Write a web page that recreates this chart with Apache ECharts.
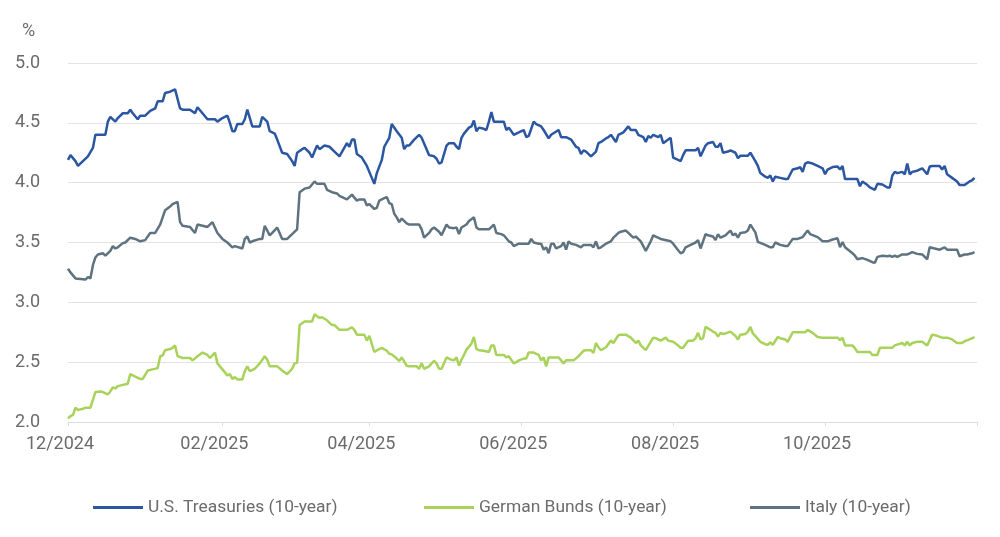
<!DOCTYPE html>
<html>
<head>
<meta charset="utf-8">
<script src="https://cdn.jsdelivr.net/npm/echarts@6/dist/echarts.min.js"></script>
<style>
html,body{margin:0;padding:0;background:#fff;}
#chart{width:1000px;height:537px;}
</style>
</head>
<body>
<div id="chart"></div>
<script>
const seriesNames = ["U.S. Treasuries (10-year)", "German Bunds (10-year)", "Italy (10-year)"];
const tickDates = ["2024-12-01","2025-02-01","2025-04-01","2025-06-01","2025-08-01","2025-10-01","2025-12-01"];
const labelDates = ["2024-12-01","2025-02-01","2025-04-01","2025-06-01","2025-08-01","2025-10-01"];
const yTicks = [2.0, 2.5, 3.0, 3.5, 4.0, 4.5, 5.0];

const usTreasuries = [
["2024-12-01",4.19],["2024-12-02",4.23],["2024-12-04",4.18],["2024-12-05",4.14],["2024-12-07",4.18],
["2024-12-09",4.22],["2024-12-11",4.29],["2024-12-12",4.40],["2024-12-16",4.40],["2024-12-17",4.51],
["2024-12-18",4.55],["2024-12-20",4.51],["2024-12-21",4.54],["2024-12-23",4.58],["2024-12-25",4.58],
["2024-12-26",4.61],["2024-12-27",4.58],["2024-12-29",4.53],["2024-12-30",4.56],["2025-01-01",4.56],
["2025-01-03",4.60],["2025-01-05",4.62],["2025-01-06",4.68],["2025-01-08",4.68],["2025-01-09",4.75],
["2025-01-11",4.76],["2025-01-13",4.78],["2025-01-15",4.62],["2025-01-16",4.61],["2025-01-19",4.61],
["2025-01-21",4.58],["2025-01-22",4.63],["2025-01-24",4.58],["2025-01-26",4.53],["2025-01-29",4.53],
["2025-01-30",4.51],["2025-02-01",4.54],["2025-02-03",4.56],["2025-02-04",4.50],["2025-02-05",4.43],
["2025-02-06",4.43],["2025-02-07",4.49],["2025-02-09",4.49],["2025-02-10",4.53],["2025-02-11",4.61],
["2025-02-13",4.47],["2025-02-16",4.47],["2025-02-17",4.55],["2025-02-19",4.51],["2025-02-20",4.43],
["2025-02-22",4.41],["2025-02-23",4.36],["2025-02-25",4.25],["2025-02-27",4.24],["2025-03-01",4.18],
["2025-03-02",4.14],["2025-03-03",4.25],["2025-03-05",4.28],["2025-03-06",4.29],["2025-03-08",4.25],
["2025-03-09",4.21],["2025-03-11",4.31],["2025-03-12",4.28],["2025-03-14",4.31],["2025-03-16",4.30],
["2025-03-18",4.26],["2025-03-20",4.22],["2025-03-23",4.33],["2025-03-24",4.30],["2025-03-25",4.36],
["2025-03-26",4.36],["2025-03-27",4.24],["2025-03-29",4.21],["2025-03-31",4.14],["2025-04-02",4.04],
["2025-04-03",3.99],["2025-04-04",4.08],["2025-04-06",4.19],["2025-04-07",4.30],["2025-04-09",4.375],
["2025-04-10",4.49],["2025-04-12",4.43],["2025-04-14",4.375],["2025-04-15",4.28],["2025-04-16",4.31],
["2025-04-17",4.31],["2025-04-19",4.36],["2025-04-21",4.40],["2025-04-22",4.375],["2025-04-25",4.23],
["2025-04-27",4.22],["2025-04-28",4.20],["2025-04-29",4.16],["2025-04-30",4.17],["2025-05-02",4.31],
["2025-05-03",4.33],["2025-05-05",4.33],["2025-05-06",4.30],["2025-05-07",4.28],["2025-05-08",4.375],
["2025-05-09",4.41],["2025-05-11",4.46],["2025-05-12",4.47],["2025-05-13",4.52],["2025-05-14",4.43],
["2025-05-15",4.46],["2025-05-17",4.45],["2025-05-18",4.44],["2025-05-19",4.51],["2025-05-20",4.59],
["2025-05-21",4.51],["2025-05-23",4.51],["2025-05-25",4.51],["2025-05-26",4.44],["2025-05-27",4.46],
["2025-05-29",4.40],["2025-05-31",4.42],["2025-06-02",4.44],["2025-06-03",4.38],["2025-06-04",4.39],
["2025-06-06",4.51],["2025-06-07",4.49],["2025-06-09",4.47],["2025-06-10",4.44],["2025-06-12",4.37],
["2025-06-13",4.40],["2025-06-16",4.44],["2025-06-17",4.38],["2025-06-19",4.38],["2025-06-21",4.36],
["2025-06-23",4.30],["2025-06-24",4.29],["2025-06-25",4.24],["2025-06-26",4.27],["2025-06-27",4.26],
["2025-06-29",4.22],["2025-07-01",4.26],["2025-07-02",4.33],["2025-07-03",4.34],["2025-07-05",4.37],
["2025-07-06",4.38],["2025-07-07",4.40],["2025-07-09",4.34],["2025-07-10",4.40],["2025-07-12",4.42],
["2025-07-14",4.47],["2025-07-15",4.44],["2025-07-17",4.44],["2025-07-18",4.40],["2025-07-20",4.38],
["2025-07-21",4.34],["2025-07-22",4.39],["2025-07-23",4.375],["2025-07-24",4.40],["2025-07-26",4.38],
["2025-07-27",4.40],["2025-07-28",4.33],["2025-07-30",4.36],["2025-07-31",4.375],["2025-08-01",4.21],
["2025-08-03",4.19],["2025-08-04",4.18],["2025-08-05",4.23],["2025-08-06",4.27],["2025-08-10",4.27],
["2025-08-11",4.29],["2025-08-12",4.22],["2025-08-14",4.31],["2025-08-15",4.33],["2025-08-17",4.34],
["2025-08-18",4.30],["2025-08-19",4.30],["2025-08-20",4.33],["2025-08-21",4.25],["2025-08-23",4.26],
["2025-08-24",4.27],["2025-08-26",4.25],["2025-08-27",4.205],["2025-08-28",4.225],["2025-08-31",4.225],
["2025-09-01",4.25],["2025-09-03",4.18],["2025-09-04",4.14],["2025-09-05",4.08],["2025-09-07",4.05],
["2025-09-08",4.04],["2025-09-09",4.06],["2025-09-10",4.01],["2025-09-11",4.05],["2025-09-13",4.04],
["2025-09-15",4.03],["2025-09-16",4.03],["2025-09-17",4.07],["2025-09-18",4.11],["2025-09-20",4.12],
["2025-09-21",4.13],["2025-09-22",4.09],["2025-09-23",4.16],["2025-09-24",4.17],["2025-09-26",4.16],
["2025-09-28",4.14],["2025-09-30",4.12],["2025-10-01",4.07],["2025-10-02",4.11],["2025-10-04",4.13],
["2025-10-06",4.135],["2025-10-07",4.11],["2025-10-08",4.14],["2025-10-09",4.03],["2025-10-10",4.03],
["2025-10-14",4.03],["2025-10-15",3.97],["2025-10-16",4.01],["2025-10-18",3.98],["2025-10-19",3.96],
["2025-10-21",3.94],["2025-10-22",3.99],["2025-10-24",3.985],["2025-10-26",3.96],["2025-10-27",3.96],
["2025-10-28",4.06],["2025-10-29",4.09],["2025-10-30",4.08],["2025-11-01",4.09],["2025-11-02",4.07],
["2025-11-03",4.16],["2025-11-04",4.07],["2025-11-05",4.09],["2025-11-07",4.10],["2025-11-09",4.12],
["2025-11-11",4.07],["2025-11-12",4.135],["2025-11-13",4.14],["2025-11-16",4.14],["2025-11-17",4.11],
["2025-11-18",4.14],["2025-11-19",4.07],["2025-11-21",4.04],["2025-11-23",4.01],["2025-11-24",3.98],
["2025-11-26",3.98],["2025-11-28",4.01],["2025-11-29",4.02],["2025-11-30",4.04]
];

const germanBunds = [
["2024-12-01",2.03],["2024-12-02",2.05],["2024-12-03",2.06],["2024-12-04",2.12],["2024-12-05",2.10],
["2024-12-07",2.11],["2024-12-08",2.12],["2024-12-10",2.12],["2024-12-12",2.25],["2024-12-14",2.255],
["2024-12-15",2.25],["2024-12-17",2.23],["2024-12-18",2.255],["2024-12-19",2.29],["2024-12-20",2.28],
["2024-12-21",2.30],["2024-12-23",2.31],["2024-12-25",2.32],["2024-12-26",2.40],["2024-12-28",2.38],
["2024-12-30",2.36],["2024-12-31",2.36],["2025-01-02",2.43],["2025-01-04",2.44],["2025-01-06",2.45],
["2025-01-07",2.55],["2025-01-08",2.555],["2025-01-09",2.60],["2025-01-11",2.61],["2025-01-12",2.62],
["2025-01-13",2.64],["2025-01-14",2.55],["2025-01-16",2.535],["2025-01-19",2.535],["2025-01-20",2.515],
["2025-01-22",2.55],["2025-01-24",2.58],["2025-01-26",2.56],["2025-01-27",2.535],["2025-01-29",2.58],
["2025-01-30",2.49],["2025-02-01",2.44],["2025-02-03",2.39],["2025-02-04",2.40],["2025-02-05",2.36],
["2025-02-06",2.375],["2025-02-07",2.356],["2025-02-09",2.356],["2025-02-10",2.425],["2025-02-11",2.465],
["2025-02-12",2.425],["2025-02-14",2.445],["2025-02-16",2.49],["2025-02-18",2.55],["2025-02-19",2.52],
["2025-02-20",2.465],["2025-02-23",2.465],["2025-02-25",2.43],["2025-02-27",2.40],["2025-03-01",2.445],
["2025-03-02",2.49],["2025-03-03",2.495],["2025-03-04",2.81],["2025-03-06",2.84],["2025-03-09",2.84],
["2025-03-10",2.90],["2025-03-12",2.87],["2025-03-13",2.875],["2025-03-15",2.85],["2025-03-17",2.81],
["2025-03-18",2.81],["2025-03-20",2.77],["2025-03-23",2.77],["2025-03-25",2.79],["2025-03-26",2.77],
["2025-03-27",2.73],["2025-03-30",2.73],["2025-03-31",2.68],["2025-04-01",2.72],["2025-04-03",2.585],
["2025-04-05",2.61],["2025-04-06",2.62],["2025-04-08",2.595],["2025-04-09",2.57],["2025-04-10",2.565],
["2025-04-12",2.53],["2025-04-13",2.51],["2025-04-14",2.54],["2025-04-16",2.47],["2025-04-17",2.465],
["2025-04-19",2.465],["2025-04-20",2.465],["2025-04-21",2.445],["2025-04-22",2.49],["2025-04-23",2.445],
["2025-04-25",2.465],["2025-04-26",2.49],["2025-04-27",2.51],["2025-04-28",2.49],["2025-04-29",2.445],
["2025-04-30",2.445],["2025-05-02",2.54],["2025-05-04",2.52],["2025-05-05",2.515],["2025-05-06",2.54],
["2025-05-07",2.47],["2025-05-08",2.52],["2025-05-09",2.56],["2025-05-10",2.605],["2025-05-12",2.655],
["2025-05-13",2.71],["2025-05-14",2.61],["2025-05-15",2.60],["2025-05-17",2.595],["2025-05-19",2.585],
["2025-05-20",2.64],["2025-05-21",2.64],["2025-05-22",2.56],["2025-05-23",2.56],["2025-05-25",2.56],
["2025-05-26",2.54],["2025-05-27",2.55],["2025-05-29",2.49],["2025-05-30",2.50],["2025-05-31",2.515],
["2025-06-02",2.53],["2025-06-03",2.53],["2025-06-04",2.58],["2025-06-06",2.58],["2025-06-07",2.57],
["2025-06-08",2.56],["2025-06-09",2.515],["2025-06-10",2.54],["2025-06-11",2.465],["2025-06-12",2.54],
["2025-06-14",2.54],["2025-06-16",2.54],["2025-06-18",2.49],["2025-06-19",2.515],["2025-06-20",2.515],
["2025-06-22",2.515],["2025-06-24",2.55],["2025-06-26",2.595],["2025-06-27",2.60],["2025-06-29",2.60],
["2025-06-30",2.577],["2025-07-01",2.66],["2025-07-02",2.625],["2025-07-03",2.60],["2025-07-05",2.625],
["2025-07-07",2.68],["2025-07-08",2.66],["2025-07-10",2.725],["2025-07-11",2.73],["2025-07-13",2.73],
["2025-07-15",2.705],["2025-07-17",2.66],["2025-07-18",2.68],["2025-07-19",2.64],["2025-07-21",2.60],
["2025-07-24",2.705],["2025-07-25",2.70],["2025-07-27",2.68],["2025-07-29",2.705],["2025-07-30",2.68],
["2025-08-01",2.67],["2025-08-03",2.64],["2025-08-04",2.62],["2025-08-05",2.62],["2025-08-06",2.65],
["2025-08-07",2.68],["2025-08-09",2.68],["2025-08-10",2.70],["2025-08-11",2.745],["2025-08-12",2.69],
["2025-08-13",2.70],["2025-08-14",2.795],["2025-08-16",2.77],["2025-08-17",2.755],["2025-08-18",2.745],
["2025-08-19",2.715],["2025-08-20",2.745],["2025-08-21",2.735],["2025-08-22",2.74],["2025-08-24",2.755],
["2025-08-26",2.72],["2025-08-27",2.69],["2025-08-28",2.73],["2025-08-30",2.735],["2025-08-31",2.755],
["2025-09-01",2.795],["2025-09-02",2.74],["2025-09-04",2.695],["2025-09-05",2.67],["2025-09-07",2.65],
["2025-09-08",2.645],["2025-09-09",2.665],["2025-09-10",2.645],["2025-09-12",2.71],["2025-09-13",2.70],
["2025-09-15",2.69],["2025-09-16",2.67],["2025-09-18",2.75],["2025-09-20",2.75],["2025-09-23",2.75],
["2025-09-24",2.77],["2025-09-26",2.745],["2025-09-28",2.71],["2025-09-30",2.705],["2025-10-04",2.705],
["2025-10-06",2.705],["2025-10-07",2.685],["2025-10-08",2.705],["2025-10-09",2.64],["2025-10-12",2.64],
["2025-10-13",2.615],["2025-10-14",2.585],["2025-10-16",2.585],["2025-10-19",2.585],["2025-10-20",2.56],
["2025-10-22",2.56],["2025-10-23",2.62],["2025-10-25",2.62],["2025-10-28",2.62],["2025-10-29",2.64],
["2025-11-01",2.66],["2025-11-02",2.64],["2025-11-03",2.67],["2025-11-04",2.64],["2025-11-05",2.66],
["2025-11-07",2.67],["2025-11-09",2.67],["2025-11-11",2.64],["2025-11-13",2.73],["2025-11-15",2.72],
["2025-11-17",2.705],["2025-11-19",2.705],["2025-11-21",2.69],["2025-11-23",2.66],["2025-11-25",2.66],
["2025-11-26",2.675],["2025-11-28",2.69],["2025-11-30",2.71]
];

const italy = [
["2024-12-01",3.28],["2024-12-02",3.25],["2024-12-04",3.20],["2024-12-06",3.195],["2024-12-08",3.19],
["2024-12-09",3.21],["2024-12-10",3.20],["2024-12-11",3.31],["2024-12-12",3.375],["2024-12-13",3.40],
["2024-12-15",3.41],["2024-12-16",3.39],["2024-12-18",3.43],["2024-12-19",3.47],["2024-12-20",3.45],
["2024-12-21",3.46],["2024-12-23",3.495],["2024-12-24",3.50],["2024-12-26",3.54],["2024-12-28",3.53],
["2024-12-30",3.51],["2025-01-01",3.52],["2025-01-03",3.58],["2025-01-05",3.58],["2025-01-07",3.65],
["2025-01-08",3.71],["2025-01-09",3.77],["2025-01-11",3.80],["2025-01-12",3.82],["2025-01-14",3.84],
["2025-01-15",3.67],["2025-01-16",3.64],["2025-01-19",3.63],["2025-01-21",3.58],["2025-01-22",3.65],
["2025-01-24",3.64],["2025-01-26",3.63],["2025-01-28",3.67],["2025-01-30",3.58],["2025-02-01",3.53],
["2025-02-03",3.50],["2025-02-05",3.46],["2025-02-06",3.47],["2025-02-09",3.45],["2025-02-10",3.53],
["2025-02-11",3.55],["2025-02-12",3.50],["2025-02-13",3.51],["2025-02-16",3.53],["2025-02-17",3.53],
["2025-02-18",3.64],["2025-02-20",3.56],["2025-02-21",3.58],["2025-02-23",3.625],["2025-02-25",3.53],
["2025-02-27",3.53],["2025-03-01",3.57],["2025-03-03",3.61],["2025-03-04",3.92],["2025-03-06",3.95],
["2025-03-08",3.96],["2025-03-10",4.01],["2025-03-11",3.99],["2025-03-14",3.99],["2025-03-15",3.94],
["2025-03-17",3.92],["2025-03-19",3.91],["2025-03-20",3.89],["2025-03-23",3.86],["2025-03-25",3.90],
["2025-03-27",3.85],["2025-03-28",3.86],["2025-03-30",3.86],["2025-03-31",3.81],["2025-04-01",3.82],
["2025-04-03",3.78],["2025-04-04",3.79],["2025-04-05",3.85],["2025-04-07",3.87],["2025-04-08",3.88],
["2025-04-09",3.83],["2025-04-10",3.82],["2025-04-11",3.74],["2025-04-12",3.71],["2025-04-13",3.67],
["2025-04-14",3.70],["2025-04-16",3.66],["2025-04-17",3.65],["2025-04-19",3.65],["2025-04-21",3.65],
["2025-04-22",3.61],["2025-04-23",3.54],["2025-04-25",3.58],["2025-04-26",3.61],["2025-04-27",3.625],
["2025-04-29",3.59],["2025-04-30",3.56],["2025-05-02",3.65],["2025-05-03",3.625],["2025-05-05",3.62],
["2025-05-06",3.625],["2025-05-07",3.57],["2025-05-08",3.625],["2025-05-10",3.65],["2025-05-11",3.68],
["2025-05-13",3.71],["2025-05-14",3.625],["2025-05-15",3.61],["2025-05-18",3.61],["2025-05-19",3.61],
["2025-05-21",3.65],["2025-05-22",3.58],["2025-05-24",3.57],["2025-05-25",3.56],["2025-05-27",3.51],
["2025-05-28",3.50],["2025-05-29",3.47],["2025-05-31",3.49],["2025-06-02",3.49],["2025-06-04",3.49],
["2025-06-05",3.53],["2025-06-06",3.50],["2025-06-08",3.49],["2025-06-09",3.49],["2025-06-10",3.44],
["2025-06-11",3.46],["2025-06-12",3.41],["2025-06-13",3.49],["2025-06-14",3.49],["2025-06-15",3.45],
["2025-06-17",3.47],["2025-06-18",3.50],["2025-06-19",3.44],["2025-06-20",3.51],["2025-06-21",3.49],
["2025-06-23",3.48],["2025-06-25",3.46],["2025-06-26",3.48],["2025-06-29",3.48],["2025-06-30",3.46],
["2025-07-01",3.51],["2025-07-02",3.45],["2025-07-03",3.46],["2025-07-05",3.49],["2025-07-07",3.51],
["2025-07-08",3.54],["2025-07-09",3.56],["2025-07-10",3.58],["2025-07-11",3.59],["2025-07-13",3.60],
["2025-07-14",3.58],["2025-07-16",3.54],["2025-07-17",3.55],["2025-07-19",3.51],["2025-07-20",3.47],
["2025-07-21",3.43],["2025-07-23",3.51],["2025-07-24",3.56],["2025-07-25",3.55],["2025-07-27",3.53],
["2025-07-31",3.51],["2025-08-01",3.49],["2025-08-03",3.435],["2025-08-04",3.41],["2025-08-05",3.42],
["2025-08-06",3.46],["2025-08-08",3.48],["2025-08-10",3.50],["2025-08-11",3.52],["2025-08-12",3.45],
["2025-08-14",3.57],["2025-08-15",3.56],["2025-08-17",3.55],["2025-08-18",3.52],["2025-08-19",3.57],
["2025-08-20",3.54],["2025-08-22",3.56],["2025-08-23",3.58],["2025-08-24",3.60],["2025-08-25",3.56],
["2025-08-26",3.575],["2025-08-27",3.54],["2025-08-28",3.58],["2025-08-30",3.585],["2025-08-31",3.60],
["2025-09-01",3.65],["2025-09-03",3.585],["2025-09-04",3.505],["2025-09-07",3.48],["2025-09-09",3.46],
["2025-09-10",3.46],["2025-09-11",3.50],["2025-09-13",3.48],["2025-09-15",3.47],["2025-09-16",3.47],
["2025-09-18",3.53],["2025-09-20",3.53],["2025-09-22",3.545],["2025-09-24",3.60],["2025-09-25",3.57],
["2025-09-28",3.545],["2025-09-30",3.51],["2025-10-02",3.51],["2025-10-04",3.525],["2025-10-06",3.535],
["2025-10-07",3.46],["2025-10-08",3.505],["2025-10-09",3.46],["2025-10-12",3.41],["2025-10-13",3.39],
["2025-10-14",3.36],["2025-10-16",3.37],["2025-10-18",3.355],["2025-10-20",3.335],["2025-10-21",3.33],
["2025-10-22",3.38],["2025-10-24",3.39],["2025-10-26",3.385],["2025-10-27",3.39],["2025-10-28",3.38],
["2025-10-29",3.39],["2025-10-30",3.38],["2025-11-01",3.40],["2025-11-03",3.40],["2025-11-04",3.41],
["2025-11-05",3.42],["2025-11-07",3.405],["2025-11-09",3.40],["2025-11-11",3.36],["2025-11-12",3.46],
["2025-11-14",3.45],["2025-11-16",3.44],["2025-11-18",3.46],["2025-11-19",3.44],["2025-11-21",3.44],
["2025-11-23",3.44],["2025-11-24",3.385],["2025-11-26",3.40],["2025-11-27",3.40],["2025-11-29",3.41],
["2025-11-30",3.42]
];

function ts(s){ const p = s.split('-').map(Number); return new Date(p[0], p[1]-1, p[2]).getTime(); }
function pad(n){ return (n < 10 ? '0' : '') + n; }

const FONT = 'Roboto, "Liberation Sans", sans-serif';
const TXT = '#6b6b6b';
const FS = 18;
const colors = ['#2b56a1', '#a8d25a', '#5e737f'];
const legendLeft = [88, 419, 745];

const chart = echarts.init(document.getElementById('chart'), null, {renderer:'canvas'});
chart.setOption({
  animation: false,
  backgroundColor: '#ffffff',
  color: colors,
  textStyle: { fontFamily: FONT },
  grid: { left: 68, right: 23, top: 63, bottom: 115, containLabel: false },
  graphic: [{
    type: 'text', x: 22, y: 31,
    style: { text: '%', fontSize: FS, fill: TXT, fontFamily: FONT, verticalAlign: 'middle' }
  }],
  legend: seriesNames.map(function(n, i){
    return {
      data: [n],
      left: legendLeft[i], top: 494,
      itemWidth: 50, itemHeight: 3,
      icon: 'rect',
      textStyle: { fontSize: 17.4, color: TXT, fontFamily: FONT }
    };
  }),
  xAxis: {
    type: 'value',
    min: ts(tickDates[0]),
    max: ts(tickDates[tickDates.length-1]),
    axisLine: { show: true, lineStyle: { color: '#dcdcdc', width: 1 } },
    axisTick: { show: true, length: 4, lineStyle: { color: '#dcdcdc' }, customValues: tickDates.map(ts) },
    splitLine: { show: false },
    axisLabel: {
      customValues: labelDates.map(ts),
      fontSize: FS, color: TXT, fontFamily: FONT, margin: 13,
      padding: [0, 16, 0, 0],
      formatter: function(v){ const d = new Date(v); return pad(d.getMonth()+1) + '/' + d.getFullYear(); }
    }
  },
  yAxis: {
    type: 'value',
    min: yTicks[0], max: yTicks[yTicks.length-1], interval: 0.5,
    axisLine: { show: false },
    axisTick: { show: false },
    splitLine: { show: true, lineStyle: { color: '#e3e3e3', width: 1 } },
    axisLabel: {
      fontSize: FS, color: TXT, fontFamily: FONT, margin: 28,
      formatter: function(v){ return v.toFixed(1); }
    }
  },
  series: [
    { name: seriesNames[0], type: 'line', data: usTreasuries.map(d => [ts(d[0]), d[1]]), showSymbol: false, symbol: 'none', lineStyle: { width: 2.5, color: colors[0] }, itemStyle: { color: colors[0] } },
    { name: seriesNames[1], type: 'line', data: germanBunds.map(d => [ts(d[0]), d[1]]), showSymbol: false, symbol: 'none', lineStyle: { width: 2.5, color: colors[1] }, itemStyle: { color: colors[1] } },
    { name: seriesNames[2], type: 'line', data: italy.map(d => [ts(d[0]), d[1]]), showSymbol: false, symbol: 'none', lineStyle: { width: 2.5, color: colors[2] }, itemStyle: { color: colors[2] } }
  ]
});
</script>
</body>
</html>
